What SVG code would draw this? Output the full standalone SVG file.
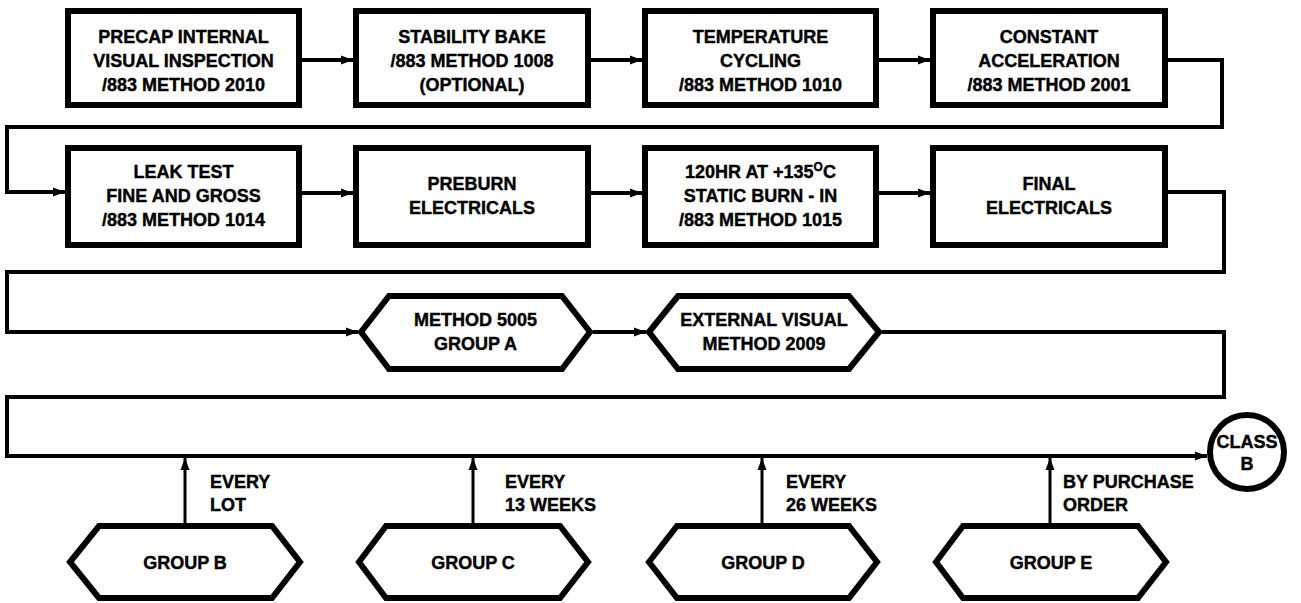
<svg xmlns="http://www.w3.org/2000/svg" width="1301" height="603" viewBox="0 0 1301 603">
<defs>
<style>
.box{fill:#fff;stroke:#000;stroke-width:6}
.t{font-family:"Liberation Sans",Arial,sans-serif;font-weight:bold;font-size:18px;fill:#000;stroke:#000;stroke-width:0.4;text-anchor:middle}
.l{font-family:"Liberation Sans",Arial,sans-serif;font-weight:bold;font-size:18px;fill:#000;stroke:#000;stroke-width:0.4;text-anchor:start}
.c{fill:none;stroke:#000;stroke-width:4}
.u{fill:none;stroke:#000;stroke-width:3}
</style>
<marker id="ah" viewBox="0 0 12 10" refX="12" refY="5" markerWidth="12" markerHeight="10" markerUnits="userSpaceOnUse" orient="auto"><path d="M0,0.5 L12,5 L0,9.5 z" fill="#000"/></marker>
</defs>
<rect width="1301" height="603" fill="#fff"/>
<g id="connectors">
<path class="c" d="M302,60 H353" marker-end="url(#ah)"/>
<path class="c" d="M591,60 H642" marker-end="url(#ah)"/>
<path class="c" d="M879,60 H930" marker-end="url(#ah)"/>
<path class="c" d="M1168,60 H1222 V127 H7 V192 H65" marker-end="url(#ah)"/>
<path class="c" d="M302,193 H353" marker-end="url(#ah)"/>
<path class="c" d="M591,193 H642" marker-end="url(#ah)"/>
<path class="c" d="M879,193 H930" marker-end="url(#ah)"/>
<path class="c" d="M1168,192 H1224 V272 H7 V332 H358" marker-end="url(#ah)"/>
<path class="c" d="M593,332 H646" marker-end="url(#ah)"/>
<path class="c" d="M882,332 H1224 V397 H7 V456 H1207" marker-end="url(#ah)"/>
<path class="u" d="M185,523 V458" marker-end="url(#ah)"/>
<path class="u" d="M473,523 V458" marker-end="url(#ah)"/>
<path class="u" d="M762,523 V458" marker-end="url(#ah)"/>
<path class="u" d="M1050,523 V458" marker-end="url(#ah)"/>
<text class="l" x="210" y="488">EVERY</text>
<text class="l" x="210" y="511">LOT</text>
<text class="l" x="505" y="488">EVERY</text>
<text class="l" x="505" y="511">13 WEEKS</text>
<text class="l" x="786" y="488">EVERY</text>
<text class="l" x="786" y="511">26 WEEKS</text>
<text class="l" x="1063" y="488">BY PURCHASE</text>
<text class="l" x="1063" y="511">ORDER</text>
</g>
<g id="n1"><rect class="box" x="68" y="11" width="231" height="94"/>
<text class="t" x="183.5" y="43">PRECAP INTERNAL</text><text class="t" x="183.5" y="67">VISUAL INSPECTION</text><text class="t" x="183.5" y="91">/883 METHOD 2010</text></g>
<g id="n2"><rect class="box" x="356" y="11" width="232" height="94"/>
<text class="t" x="472" y="43">STABILITY BAKE</text><text class="t" x="472" y="67">/883 METHOD 1008</text><text class="t" x="472" y="91">(OPTIONAL)</text></g>
<g id="n3"><rect class="box" x="645" y="11" width="231" height="94"/>
<text class="t" x="760.5" y="43">TEMPERATURE</text><text class="t" x="760.5" y="67">CYCLING</text><text class="t" x="760.5" y="91">/883 METHOD 1010</text></g>
<g id="n4"><rect class="box" x="933" y="11" width="232" height="94"/>
<text class="t" x="1049" y="43">CONSTANT</text><text class="t" x="1049" y="67">ACCELERATION</text><text class="t" x="1049" y="91">/883 METHOD 2001</text></g>
<g id="n5"><rect class="box" x="68" y="148" width="231" height="97"/>
<text class="t" x="183.5" y="178">LEAK TEST</text><text class="t" x="183.5" y="202">FINE AND GROSS</text><text class="t" x="183.5" y="226">/883 METHOD 1014</text></g>
<g id="n6"><rect class="box" x="356" y="148" width="232" height="97"/>
<text class="t" x="472" y="190">PREBURN</text><text class="t" x="472" y="214">ELECTRICALS</text></g>
<g id="n7"><rect class="box" x="645" y="148" width="231" height="97"/>
<text class="t" x="760.5" y="178">120HR AT +135<tspan font-size="12" dy="-7">O</tspan><tspan dy="7">C</tspan></text><text class="t" x="760.5" y="202">STATIC BURN - IN</text><text class="t" x="760.5" y="226">/883 METHOD 1015</text></g>
<g id="n8"><rect class="box" x="933" y="148" width="232" height="97"/>
<text class="t" x="1049" y="190">FINAL</text><text class="t" x="1049" y="214">ELECTRICALS</text></g>
<g id="n9"><polygon class="box" points="361,332 389,296 562,296 590,332 562,369 389,369"/>
<text class="t" x="475.5" y="326">METHOD 5005</text><text class="t" x="475.5" y="350">GROUP A</text></g>
<g id="n10"><polygon class="box" points="649,332 678,296 849,296 879,332 849,369 678,369"/>
<text class="t" x="764" y="326">EXTERNAL VISUAL</text><text class="t" x="764" y="350">METHOD 2009</text></g>
<g id="n11"><circle class="box" cx="1247" cy="452" r="37"/>
<text class="t" x="1247" y="448" font-size="16">CLASS</text><text class="t" x="1247" y="470" font-size="16">B</text></g>
<g id="n12"><polygon class="box" points="70,562 99,526 272,526 300,562 272,598 99,598"/>
<text class="t" x="185" y="569">GROUP B</text></g>
<g id="n13"><polygon class="box" points="359,562 386,526 560,526 588,562 560,598 386,598"/>
<text class="t" x="473" y="569">GROUP C</text></g>
<g id="n14"><polygon class="box" points="649,562 677,526 849,526 877,562 849,598 677,598"/>
<text class="t" x="763" y="569">GROUP D</text></g>
<g id="n15"><polygon class="box" points="936,562 963,526 1138,526 1166,562 1138,598 963,598"/>
<text class="t" x="1051" y="569">GROUP E</text></g>
</svg>
